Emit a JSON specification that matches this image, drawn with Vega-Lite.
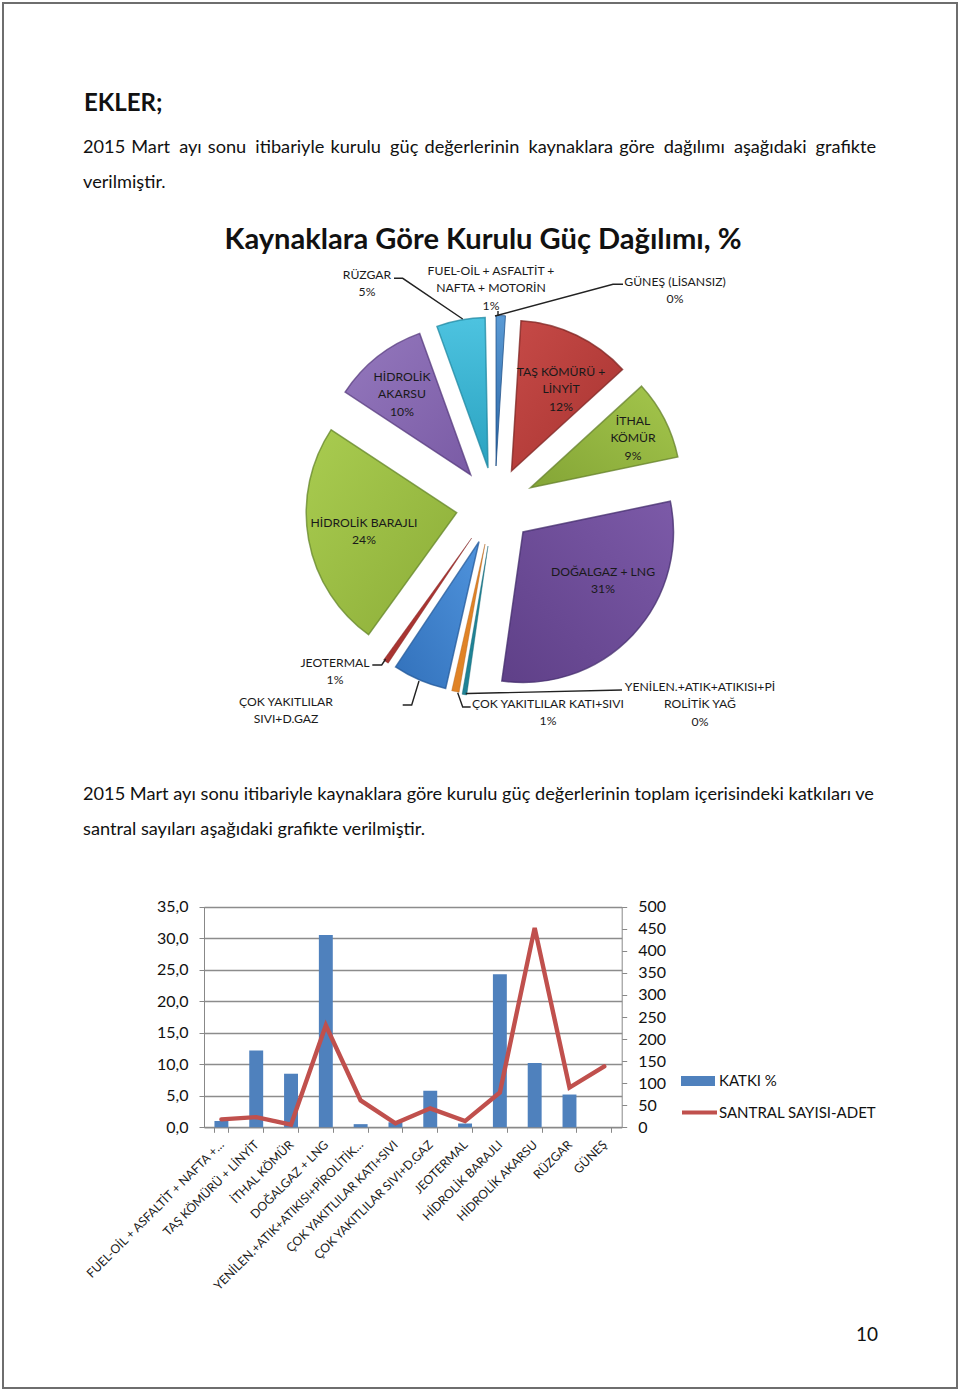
{
"$schema":"https://vega.github.io/schema/vega-lite/v6.json",
"width":954,"height":1385,"autosize":"none","padding":{"left":3,"top":3,"right":3,"bottom":5},"background":"white",
"config":{"view":{"stroke":"#6e6e6e","strokeWidth":2},"font":"Lato","text":{"font":"Lato"}},
"datasets":{
"kaynaklar":[
{"sira":1,"ad":"FUEL-OİL + ASFALTİT + NAFTA +…","katki":1.0,"santral":18},
{"sira":2,"ad":"TAŞ KÖMÜRÜ + LİNYİT","katki":12.2,"santral":23},
{"sira":3,"ad":"İTHAL KÖMÜR","katki":8.5,"santral":6},
{"sira":4,"ad":"DOĞALGAZ + LNG","katki":30.5,"santral":231},
{"sira":5,"ad":"YENİLEN.+ATIK+ATIKISI+PİROLİTİK…","katki":0.5,"santral":61},
{"sira":6,"ad":"ÇOK YAKITLILAR KATI+SIVI","katki":0.8,"santral":9},
{"sira":7,"ad":"ÇOK YAKITLILAR SIVI+D.GAZ","katki":5.8,"santral":43},
{"sira":8,"ad":"JEOTERMAL","katki":0.6,"santral":14},
{"sira":9,"ad":"HİDROLİK BARAJLI","katki":24.3,"santral":79},
{"sira":10,"ad":"HİDROLİK AKARSU","katki":10.2,"santral":452},
{"sira":11,"ad":"RÜZGAR","katki":5.2,"santral":90},
{"sira":12,"ad":"GÜNEŞ","katki":0.0,"santral":138}
]},
"resolve":{"scale":{"x":"independent","y":"independent","color":"independent","stroke":"independent","theta":"independent"},"axis":{"x":"independent","y":"independent"},"legend":{"color":"independent","stroke":"independent"}},
"layer":[
{"data":{"values":[{"s":1,"t":"2015\u2004Mart\u2002ayı\u2004sonu\u2002itibariyle\u2004kurulu\u2002güç\u2004değerlerinin\u2002kaynaklara\u2004göre\u2002dağılımı\u2002aşağıdaki\u2002grafikte"},{"s":2,"t":"verilmiştir."},{"s":3,"t":"2015 Mart ayı sonu itibariyle kaynaklara göre kurulu güç değerlerinin toplam içerisindeki katkıları ve"},{"s":4,"t":"santral sayıları aşağıdaki grafikte verilmiştir."}]},
"mark":{"type":"text","align":"left","fontSize":18.2,"color":"#111"},
"encoding":{"text":{"field":"t"},
"x":{"field":"s","type":"quantitative","axis":null,"scale":{"domain":[1,4],"range":[80,80],"nice":false,"zero":false}},
"y":{"field":"s","type":"quantitative","axis":null,"scale":{"domain":[1,2,3,4],"range":[145,180,792,827],"nice":false,"zero":false}}}},
{"data":{"values":[{"s":1,"t":"EKLER;"}]},
"mark":{"type":"text","align":"left","fontSize":24,"fontWeight":"bold","color":"#111"},
"encoding":{"text":{"field":"t"},
"x":{"field":"s","type":"quantitative","axis":null,"scale":{"domain":[0,1],"range":[0,81],"nice":false}},
"y":{"field":"s","type":"quantitative","axis":null,"scale":{"domain":[0,1],"range":[0,101],"nice":false}}}},
{"data":{"values":[{"s":1,"t":"Kaynaklara Göre Kurulu Güç Dağılımı, %"}]},
"mark":{"type":"text","align":"center","fontSize":29.1,"fontWeight":"bold","color":"#111"},
"encoding":{"text":{"field":"t"},
"x":{"field":"s","type":"quantitative","axis":null,"scale":{"domain":[0,1],"range":[0,480],"nice":false}},
"y":{"field":"s","type":"quantitative","axis":null,"scale":{"domain":[0,1],"range":[0,237],"nice":false}}}},
{"data":{"values":[{"s":1,"t":"10"}]},
"mark":{"type":"text","align":"center","fontSize":19,"color":"#111"},
"encoding":{"text":{"field":"t"},
"x":{"field":"s","type":"quantitative","axis":null,"scale":{"domain":[0,1],"range":[0,864],"nice":false}},
"y":{"field":"s","type":"quantitative","axis":null,"scale":{"domain":[0,1],"range":[0,1332],"nice":false}}}},
{"data":{"name":"kaynaklar"},
"transform":[{"stack":"katki","sort":[{"field":"sira","order":"ascending"}],"as":["t0","t1"]}],
"encoding":{
"x":{"field":"sira","type":"quantitative","axis":null,"scale":{"domain":[1,2,3,4,5,6,7,8,9,10,11,12],"range":[493,508.5,527.5,520,485,482,476,468.7,453.7,467.7,485,490],"nice":false,"zero":false}},
"y":{"field":"sira","type":"quantitative","axis":null,"scale":{"domain":[1,2,3,4,5,6,7,8,9,10,11,12],"range":[463,468,484.7,529,543,541,538.7,535,509.7,472,465,460],"nice":false,"zero":false}},
"theta":{"field":"t0","type":"quantitative","scale":{"domain":[0,99.9],"range":[0,6.2832],"nice":false}},
"theta2":{"field":"t1"}
},
"layer":[
{"transform":[{"filter":"datum.sira==1"}],"mark":{"type":"arc","radius":150.5,"strokeWidth":1,"strokeOpacity":0.75,"stroke":"#1f4f85","fill":{"gradient":"linear","x1":0,"y1":0,"x2":0,"y2":1,"stops":[{"offset":0,"color":"#5b9bd5"},{"offset":1,"color":"#2a65a5"}]}}},
{"transform":[{"filter":"datum.sira==2"}],"mark":{"type":"arc","radius":150.5,"strokeWidth":1.5,"strokeOpacity":0.75,"stroke":"#7d2422","fill":{"gradient":"linear","x1":0,"y1":0,"x2":1,"y2":1,"stops":[{"offset":0,"color":"#c64a47"},{"offset":1,"color":"#a83431"}]}}},
{"transform":[{"filter":"datum.sira==3"}],"mark":{"type":"arc","radius":150.5,"strokeWidth":1.5,"strokeOpacity":0.75,"stroke":"#64802a","fill":{"gradient":"linear","x1":1,"y1":0,"x2":0,"y2":1,"stops":[{"offset":0,"color":"#a4c64c"},{"offset":1,"color":"#84a536"}]}}},
{"transform":[{"filter":"datum.sira==4"}],"mark":{"type":"arc","radius":150.5,"strokeWidth":1.5,"strokeOpacity":0.75,"stroke":"#432c6c","fill":{"gradient":"linear","x1":1,"y1":0,"x2":0,"y2":1,"stops":[{"offset":0,"color":"#7c5aa8"},{"offset":1,"color":"#5f4088"}]}}},
{"transform":[{"filter":"datum.sira==5"}],"mark":{"type":"arc","radius":150.5,"strokeWidth":0.5,"strokeOpacity":0.75,"stroke":"#15606f","fill":"#1f8295"}},
{"transform":[{"filter":"datum.sira==6"}],"mark":{"type":"arc","radius":150.5,"strokeWidth":0.5,"strokeOpacity":0.75,"stroke":"#a85c15","fill":"#e08326"}},
{"transform":[{"filter":"datum.sira==7"}],"mark":{"type":"arc","radius":150.5,"strokeWidth":1.5,"strokeOpacity":0.75,"stroke":"#245a9a","fill":{"gradient":"linear","x1":1,"y1":0,"x2":0,"y2":1,"stops":[{"offset":0,"color":"#4f93dc"},{"offset":1,"color":"#3271bb"}]}}},
{"transform":[{"filter":"datum.sira==8"}],"mark":{"type":"arc","radius":150.5,"strokeWidth":0.5,"strokeOpacity":0.75,"stroke":"#7a2422","fill":"#a83431"}},
{"transform":[{"filter":"datum.sira==9"}],"mark":{"type":"arc","radius":150.5,"strokeWidth":1.5,"strokeOpacity":0.75,"stroke":"#64852a","fill":{"gradient":"linear","x1":0,"y1":0,"x2":1,"y2":1,"stops":[{"offset":0,"color":"#a9cc50"},{"offset":1,"color":"#8cad38"}]}}},
{"transform":[{"filter":"datum.sira==10"}],"mark":{"type":"arc","radius":150.5,"strokeWidth":1.5,"strokeOpacity":0.75,"stroke":"#55397e","fill":{"gradient":"linear","x1":0,"y1":0,"x2":1,"y2":1,"stops":[{"offset":0,"color":"#9478bd"},{"offset":1,"color":"#7a5ba5"}]}}},
{"transform":[{"filter":"datum.sira==11"}],"mark":{"type":"arc","radius":150.5,"strokeWidth":1.5,"strokeOpacity":0.75,"stroke":"#2088a2","fill":{"gradient":"linear","x1":0,"y1":0,"x2":0,"y2":1,"stops":[{"offset":0,"color":"#4dc3e0"},{"offset":1,"color":"#2aa2c0"}]}}}
]},
{"data":{"values":[
{"c":"RÜZGAR","n":1},{"c":"RÜZGAR","n":2},{"c":"RÜZGAR","n":3},
{"c":"GÜNEŞ","n":4},{"c":"GÜNEŞ","n":5},{"c":"GÜNEŞ","n":6},
{"c":"FUEL","n":7},{"c":"FUEL","n":8},
{"c":"SIVI","n":9},{"c":"SIVI","n":10},{"c":"SIVI","n":11},
{"c":"JEO","n":12},{"c":"JEO","n":13},{"c":"JEO","n":14},
{"c":"KATI","n":15},{"c":"KATI","n":16},{"c":"KATI","n":17},
{"c":"YEN","n":18},{"c":"YEN","n":19},{"c":"YEN","n":20}
]},
"mark":{"type":"line","color":"#222","strokeWidth":1.4},
"encoding":{"detail":{"field":"c"},"order":{"field":"n"},
"x":{"field":"n","type":"quantitative","axis":null,"scale":{"domain":[1,2,3,4,5,6,7,8,9,10,11,12,13,14,15,16,17,18,19,20],"range":[391,399.7,459.7,620,610,492,495,495,416,408.7,399.7,369.3,378.7,382.7,454.7,459.7,467.7,462.7,465,619],"nice":false,"zero":false}},
"y":{"field":"n","type":"quantitative","axis":null,"scale":{"domain":[1,2,3,4,5,6,7,8,9,10,11,12,13,14,15,16,17,18,19,20],"range":[275.3,275.3,316,281.3,281.3,313,308,313,678,702,702,662,662,656,689.7,704,704,690.5,690.5,687],"nice":false,"zero":false}}}},
{"data":{"values":[
{"s":1,"t":"RÜZGAR\n5%"},
{"s":2,"t":"FUEL-OİL + ASFALTİT +\nNAFTA + MOTORİN\n1%"},
{"s":3,"t":"GÜNEŞ (LİSANSIZ)\n0%"},
{"s":4,"t":"HİDROLİK\nAKARSU\n10%"},
{"s":5,"t":"TAŞ KÖMÜRÜ +\nLİNYİT\n12%"},
{"s":6,"t":"İTHAL\nKÖMÜR\n9%"},
{"s":7,"t":"HİDROLİK BARAJLI\n24%"},
{"s":8,"t":"DOĞALGAZ + LNG\n31%"},
{"s":9,"t":"JEOTERMAL\n1%"},
{"s":10,"t":"ÇOK YAKITLILAR\nSIVI+D.GAZ\n6%"},
{"s":11,"t":"ÇOK YAKITLILAR KATI+SIVI\n1%"},
{"s":12,"t":"YENİLEN.+ATIK+ATIKISI+Pİ\nROLİTİK YAĞ\n0%"}
]},
"mark":{"type":"text","align":"center","fontSize":12.2,"lineBreak":"\n","lineHeight":17.3,"color":"#1a1a1a"},
"encoding":{"text":{"field":"t"},
"x":{"field":"s","type":"quantitative","axis":null,"scale":{"domain":[1,2,3,4,5,6,7,8,9,10,11,12],"range":[364,488,672,399,558,630,361,600,332,283,545,697],"nice":false,"zero":false}},
"y":{"field":"s","type":"quantitative","axis":null,"scale":{"domain":[1,2,3,4,5,6,7,8,9,10,11,12],"range":[272,268,279,374,369,418,520,569,660,699,701,684],"nice":false,"zero":false}}}},
{"data":{"values":[{"a":0,"b":1}]},
"mark":{"type":"rect","color":"white"},
"encoding":{
"x":{"field":"a","type":"quantitative","axis":null,"scale":{"domain":[0,1],"range":[230,340],"nice":false}},"x2":{"field":"b"},
"y":{"field":"a","type":"quantitative","axis":null,"scale":{"domain":[0,1],"range":[730,745],"nice":false}},"y2":{"field":"b"}}},
{"data":{"name":"kaynaklar"},
"mark":{"type":"bar"},
"encoding":{
"x":{"field":"ad","type":"nominal","sort":null,"scale":{"range":[201,618.7],"paddingInner":0.6,"paddingOuter":0.3},
"axis":{"title":null,"orient":"bottom","offset":-260.7,"labelAngle":-45,"labelAlign":"right","labelBaseline":"middle","labelFontSize":12.2,"labelFont":"Lato","labelColor":"#1a1a1a","labelLimit":400,"labelPadding":10,"tickBand":"extent","tickColor":"#888","domainColor":"#888","tickSize":5,"grid":false}},
"y":{"field":"katki","type":"quantitative","scale":{"domain":[0,35],"range":[1124.3,903.7],"nice":false},
"axis":{"title":null,"orient":"left","offset":-201,"values":[0,5,10,15,20,25,30,35],"labelExpr":"replace(format(datum.value,'.1f'),'.',',')","labelFontSize":16,"labelFont":"Lato","labelColor":"#111","labelPadding":11,"tickColor":"#888","domainColor":"#888","tickSize":5,"grid":true,"gridColor":"#8c8c8c","gridWidth":1.3}},
"color":{"datum":"KATKI %","scale":{"domain":["KATKI %"],"range":["#4f81bd"]},"legend":{"title":null,"orient":"none","legendX":678,"legendY":1061,"padding":0,"symbolType":"M-1,-0.3H1V0.3H-1Z","symbolSize":1156,"symbolStrokeWidth":0,"labelFontSize":15,"labelFont":"Lato","labelColor":"#111","labelOffset":4,"labelLimit":300}}
}},
{"data":{"name":"kaynaklar"},
"mark":{"type":"line","strokeWidth":4.4,"strokeCap":"round","strokeJoin":"miter"},
"encoding":{
"x":{"field":"ad","type":"nominal","sort":null,"axis":null,"scale":{"range":[201,618.7],"paddingInner":0.6,"paddingOuter":0.3}},
"y":{"field":"santral","type":"quantitative","scale":{"domain":[0,500],"range":[1124.3,903.7],"nice":false},
"axis":{"title":null,"orient":"right","offset":-335.3,"values":[0,50,100,150,200,250,300,350,400,450,500],"format":"d","labelFontSize":16,"labelFont":"Lato","labelColor":"#111","labelPadding":11,"tickColor":"#888","domainColor":"#888","tickSize":5,"grid":false}},
"stroke":{"datum":"SANTRAL SAYISI-ADET","scale":{"domain":["SANTRAL SAYISI-ADET"],"range":["#c0504d"]},"legend":{"title":null,"orient":"none","legendX":677,"legendY":1090,"padding":0,"symbolType":"M-1,0H1","symbolSize":1225,"symbolStrokeWidth":4,"labelFontSize":15,"labelFont":"Lato","labelColor":"#111","labelOffset":0,"labelLimit":300}}
}}
]}
